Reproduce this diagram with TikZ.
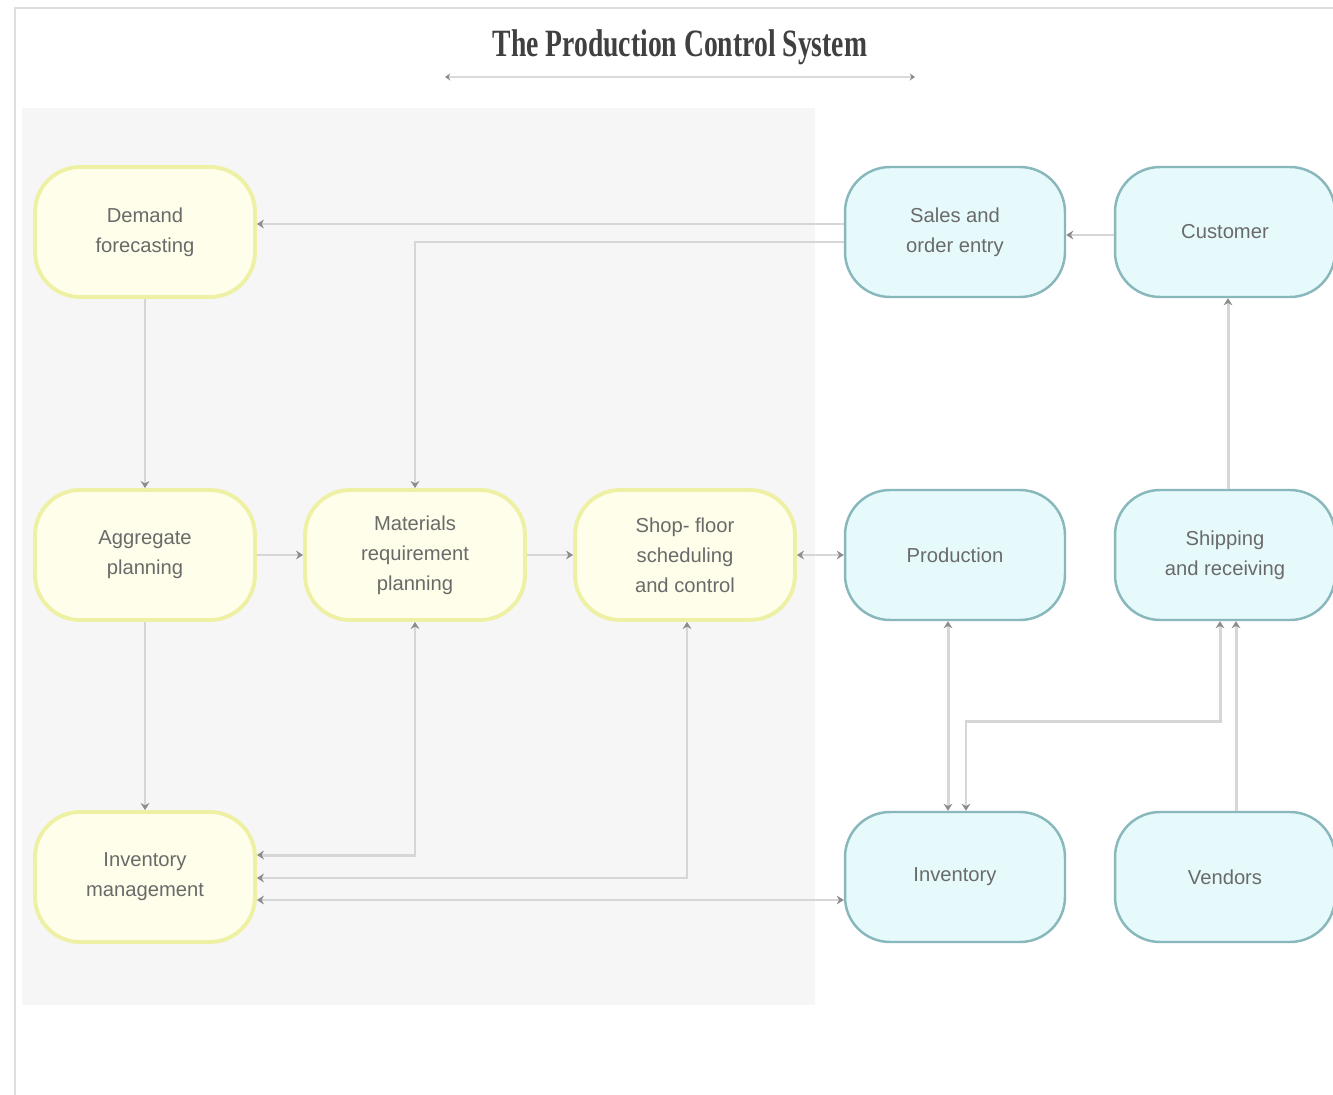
\documentclass[tikz,border=0pt]{standalone}
\usepackage{fontspec}
\setmainfont{Liberation Serif}
\setsansfont{Liberation Sans}
\usetikzlibrary{arrows.meta}
\definecolor{ylfill}{HTML}{FEFEEA}
\definecolor{yldraw}{HTML}{EEF0A4}
\definecolor{blfill}{HTML}{E6FAFC}
\definecolor{bldraw}{HTML}{88B8BC}
\definecolor{linegray}{HTML}{D6D6D6}
\definecolor{tipgray}{HTML}{8C8C8C}
\definecolor{txtgray}{HTML}{6A6A6A}
\definecolor{panel}{HTML}{F6F6F6}
\tikzset{
  box/.style={rounded corners=0.9cm, minimum width=4.4cm, minimum height=2.6cm,
    align=center, font=\sffamily\fontsize{11.5}{17}\selectfont, text=txtgray, inner sep=2pt},
  ybox/.style={box, fill=ylfill, draw=yldraw, line width=2.2pt},
  bbox/.style={box, fill=blfill, draw=bldraw, line width=1.4pt},
  conn/.style={draw=linegray, line width=1.7pt, -{Stealth[length=4pt,width=5pt,color=tipgray]}},
  conn2/.style={draw=linegray, line width=1.7pt, {Stealth[length=4pt,width=5pt,color=tipgray]}-{Stealth[length=4pt,width=5pt,color=tipgray]}},
}
\begin{document}
\begin{tikzpicture}[x=0.02cm, y=-0.02cm]
\useasboundingbox (0,0) rectangle (1333,1095);
\fill[white] (0,0) rectangle (1333,1095);
% frame
\draw[draw=linegray!80, line width=0.8pt] (15,1095) -- (15,8) -- (1333,8);
% panel
\fill[panel] (22,108) rectangle (815,1005);
% title
\node (title) at (680,47) {\scalebox{0.715}[1]{\fontsize{22}{26}\selectfont\bfseries\color{black!75}The Production Control System}};
\coordinate (tl) at (445,77);
\coordinate (tr) at (915,77);
\draw[draw=linegray!90, line width=0.9pt, {Stealth[length=3pt,width=4pt,color=tipgray]}-{Stealth[length=3pt,width=4pt,color=tipgray]}] (tl) -- (tr);
% nodes
\node[ybox] (dem) at (145,232) {Demand\\forecasting};
\node[ybox] (agg) at (145,555) {Aggregate\\planning};
\node[ybox] (mrp) at (415,555) {Materials\\requirement\\planning};
\node[ybox] (shop) at (685,555) {Shop- floor\\scheduling\\and control};
\node[ybox] (invm) at (145,877) {Inventory\\management};
\node[bbox] (sales) at (955,232) {Sales and\\order entry};
\node[bbox] (cust) at (1225,232) {Customer};
\node[bbox] (prod) at (955,555) {Production};
\node[bbox] (ship) at (1225,555) {Shipping\\and receiving};
\node[bbox] (inv) at (955,877) {Inventory};
\node[bbox] (vend) at (1225,877) {Vendors};
% connectors
\draw[conn] ([yshift=0.16cm]sales.west) -- ([yshift=0.16cm]dem.east);
\draw[conn] ([yshift=-0.2cm]sales.west) -| (mrp.north);
\draw[conn] ([yshift=-0.06cm]cust.west) -- ([yshift=-0.06cm]sales.east);
\draw[conn] ([xshift=0.06cm]ship.north) -- ([xshift=0.06cm]cust.south);
\draw[conn] (dem.south) -- (agg.north);
\draw[conn] (agg.south) -- (invm.north);
\draw[conn] (agg.east) -- (mrp.west);
\draw[conn] (mrp.east) -- (shop.west);
\draw[conn2] (shop.east) -- (prod.west);
\draw[conn2] ([yshift=0.44cm]invm.east) -| (mrp.south);
\draw[conn2] ([yshift=-0.02cm]invm.east) -| ([xshift=0.04cm]shop.south);
\draw[conn2] ([yshift=-0.46cm]invm.east) -- ([yshift=-0.46cm]inv.west);
\draw[conn2] ([xshift=-0.14cm]prod.south) -- ([xshift=-0.14cm]inv.north);
\draw[conn2] ([xshift=-0.1cm]ship.south) -- ++(0,100) -| ([xshift=0.22cm]inv.north);
\draw[conn] ([xshift=0.22cm]vend.north) -- ([xshift=0.22cm]ship.south);
\end{tikzpicture}
\end{document}
